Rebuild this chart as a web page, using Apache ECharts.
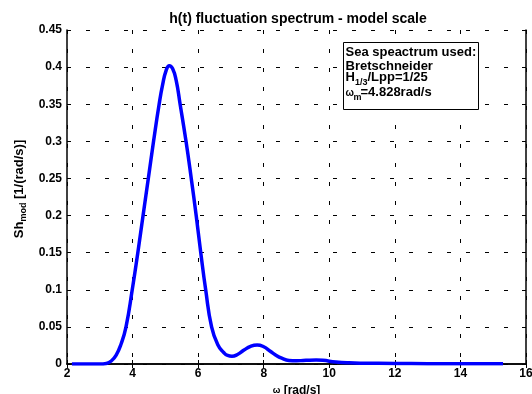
<!DOCTYPE html>
<html>
<head>
<meta charset="utf-8">
<script src="https://cdn.jsdelivr.net/npm/echarts@6/dist/echarts.min.js"></script>
<style>html,body{margin:0;padding:0;background:#fff}#c{width:532px;height:394px}</style>
</head>
<body>
<div id="c"></div>
<script>
var omega = [2.15, 2.5, 3.0, 3.2, 3.35, 3.5, 3.65, 3.8, 3.99, 4.16, 4.32, 4.48, 4.64, 4.81, 4.92, 5.02, 5.12, 5.22, 5.33, 5.45, 5.63, 5.79, 5.94, 6.08, 6.23, 6.41, 6.6, 6.78, 6.9, 7.03, 7.2, 7.4, 7.6, 7.8, 8.0, 8.2, 8.36, 8.55, 8.77, 9.0, 9.2, 9.4, 9.6, 9.8, 10.2, 10.6, 11, 12, 13, 14, 15.3];
var sh = [0.0, 0.0, 0.0, 0.0008, 0.004, 0.012, 0.027, 0.05, 0.1, 0.15, 0.2, 0.25, 0.3, 0.35, 0.377, 0.395, 0.402, 0.398, 0.382, 0.35, 0.3, 0.25, 0.2, 0.15, 0.1, 0.05, 0.026, 0.0155, 0.0115, 0.0105, 0.0128, 0.0188, 0.0238, 0.0256, 0.0232, 0.0172, 0.0122, 0.0078, 0.0048, 0.0044, 0.0047, 0.0052, 0.0053, 0.0049, 0.0028, 0.0016, 0.0011, 0.0008, 0.0005, 0.0003, 0.0002];
var xTicks = [2, 4, 6, 8, 10, 12, 14, 16];
var yTicks = [0, 0.05, 0.1, 0.15, 0.2, 0.25, 0.3, 0.35, 0.4, 0.45];

var FONT = 'Liberation Sans, Arial, sans-serif';
var data = omega.map(function (w, i) { return [w, sh[i]]; });
var chart = echarts.init(document.getElementById('c'), null, {renderer: 'canvas'});
var dash = {color: '#000', width: 1, type: [4, 15]};
var baseX = {type: 'value', min: xTicks[0], max: xTicks[xTicks.length - 1], interval: 2};
var baseY = {type: 'value', min: yTicks[0], max: yTicks[yTicks.length - 1], interval: 0.05};
function t(x, y, s, size) {
  return {type: 'text', x: x, y: y, z: 101, style: {text: s, fontFamily: FONT, fontSize: size || 13, fontWeight: 'bold', fill: '#000', verticalAlign: 'middle', align: 'left'}};
}
chart.setOption({
  animation: false,
  backgroundColor: '#fff',
  title: {
    text: 'h(t) fluctuation spectrum - model scale',
    left: 293, top: 7, textAlign: 'center',
    textStyle: {fontFamily: FONT, fontSize: 14, fontWeight: 'bold', color: '#000'}
  },
  grid: {left: 67, right: 6, top: 30, bottom: 30, containLabel: false, outerBoundsMode: 'none'},
  xAxis: [
    Object.assign({}, baseX, {
      position: 'bottom',
      name: '{w|ω} [rad/s]', nameLocation: 'middle', nameGap: 13,
      nameTextStyle: {fontFamily: FONT, fontSize: 12, fontWeight: 'bold', color: '#000',
        rich: {w: {fontFamily: FONT, fontSize: 9, fontWeight: 'bold', color: '#000'}}},
      axisLine: {show: true, lineStyle: {color: '#000', width: 1.5}},
      axisTick: {show: true, inside: true, length: 4, lineStyle: {color: '#000'}},
      axisLabel: {fontFamily: FONT, fontSize: 12, fontWeight: 'bold', color: '#000', margin: 4},
      splitLine: {show: true, lineStyle: dash}
    }),
    Object.assign({}, baseX, {
      position: 'top',
      axisLine: {show: true, lineStyle: {color: '#000', width: 1.5}},
      axisTick: {show: true, inside: true, length: 4, lineStyle: {color: '#000'}},
      axisLabel: {show: false},
      splitLine: {show: false}
    })
  ],
  yAxis: [
    Object.assign({}, baseY, {
      position: 'left',
      name: 'Sh{s|mod} [1/(rad/s)]', nameLocation: 'middle', nameGap: 31, nameRotate: 90,
      nameTextStyle: {fontFamily: FONT, fontSize: 13, fontWeight: 'bold', color: '#000', padding: [0, 0, 0, 16],
        rich: {s: {fontFamily: FONT, fontSize: 9, fontWeight: 'bold', color: '#000', verticalAlign: 'bottom', padding: [8, 0, 0, 0]}}},
      axisLine: {show: true, lineStyle: {color: '#000', width: 1.5}},
      axisTick: {show: true, inside: true, length: 4, lineStyle: {color: '#000'}},
      axisLabel: {fontFamily: FONT, fontSize: 12, fontWeight: 'bold', color: '#000', margin: 5},
      splitLine: {show: true, lineStyle: dash}
    }),
    Object.assign({}, baseY, {
      position: 'right',
      axisLine: {show: true, lineStyle: {color: '#000', width: 1.5}},
      axisTick: {show: true, inside: true, length: 4, lineStyle: {color: '#000'}},
      axisLabel: {show: false},
      splitLine: {show: false}
    })
  ],
  series: [{
    type: 'line', data: data, xAxisIndex: 0, yAxisIndex: 0,
    showSymbol: false, smooth: 0.5,
    lineStyle: {color: '#0000ff', width: 3.5}, z: 5
  }],
  graphic: [{
    type: 'group', left: 343, top: 42, z: 100,
    children: [
      {type: 'rect', z: 100, shape: {x: 0, y: 0, width: 135, height: 67},
        style: {fill: '#fff', stroke: '#000', lineWidth: 1}},
      t(2, 9.5, 'Sea speactrum used:'),
      t(2, 23.5, 'Bretschneider'),
      t(2, 34.5, 'H'),
      t(11.5, 40.5, '1/3', 9),
      t(24, 34.5, '/Lpp=1/25'),
      t(2, 51, 'ω', 10),
      t(10, 55.5, 'm', 9),
      t(17, 49.5, '=4.828rad/s')
    ]
  }]
});
</script>
</body>
</html>
